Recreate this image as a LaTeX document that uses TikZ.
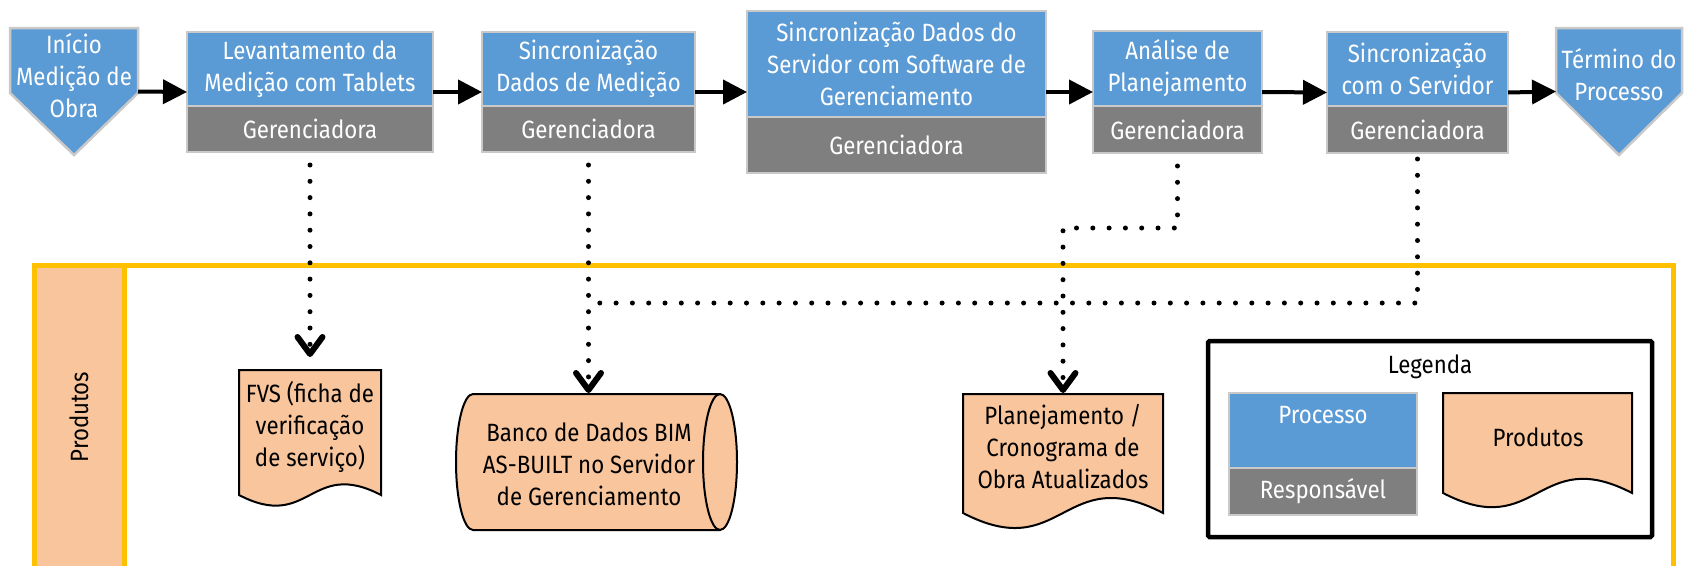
\documentclass[tikz,border=0pt]{standalone}
\usepackage{fontspec}
\setmainfont[FakeStretch=0.89]{Fira Sans}
\usetikzlibrary{arrows.meta,calc}
\definecolor{procblue}{HTML}{5B9BD5}
\definecolor{procgray}{HTML}{7F7F7F}
\definecolor{edgegray}{HTML}{C9C9C9}
\definecolor{peach}{HTML}{F8C59C}
\definecolor{frameyellow}{HTML}{FFC000}
\tikzset{
 txt/.style={font=\fontsize{25}{32}\selectfont, align=center, inner sep=0pt},
 proctop/.style={txt, fill=procblue, draw=edgegray, line width=2.5pt, text=white},
 procbot/.style={txt, fill=procgray, draw=edgegray, line width=2.5pt, text=white},
 area/.style={inner sep=0pt, outer sep=0pt},
 flow/.style={line width=4pt, -{Triangle[length=24pt,width=24pt]}},
 dotline/.style={line width=5pt, line cap=round, dash pattern=on 0pt off 16.3pt},
 dotarrow/.style={dotline, -{Straight Barb[length=17pt,width=25pt,line width=6pt,round]}},
 docshape/.style={fill=peach, draw=black, line width=2pt},
 pentshape/.style={fill=procblue, draw=edgegray, line width=2.5pt, line join=miter},
}
\newcommand\mkproc[7]{%
 \pgfmathsetmacro\mkpW{#3-#2}\pgfmathsetmacro\mkpCX{(#2+#3)/2}%
 \pgfmathsetmacro\mkpHT{#5-#4}\pgfmathsetmacro\mkpHB{#6-#5}\pgfmathsetmacro\mkpH{#6-#4}%
 \pgfmathsetmacro\mkpYT{(#4+#5)/2}\pgfmathsetmacro\mkpYB{(#5+#6)/2}\pgfmathsetmacro\mkpY{(#4+#6)/2}%
 \node[area, minimum width=\mkpW pt, minimum height=\mkpH pt] (#1) at (\mkpCX,\mkpY) {};
 \node[proctop, minimum width=\mkpW pt, minimum height=\mkpHT pt] (#1t) at (\mkpCX,\mkpYT) {#7};
 \node[procbot, minimum width=\mkpW pt, minimum height=\mkpHB pt] (#1b) at (\mkpCX,\mkpYB) {Gerenciadora};
}
\newcommand\mkdoc[5]{%
 \pgfmathsetmacro\mkdW{#3-#2}\pgfmathsetmacro\mkdCX{(#2+#3)/2}%
 \pgfmathsetmacro\mkdH{#5-#4}\pgfmathsetmacro\mkdY{(#4+#5)/2}%
 \pgfmathsetmacro\mkdA{0.26*(#3-#2)}%
 \node[area, minimum width=\mkdW pt, minimum height=\mkdH pt] (#1) at (\mkdCX,\mkdY) {};
 \filldraw[docshape] (#2,#4) -- (#3,#4) -- (#3,#5)
   .. controls ({\mkdCX},{#5-\mkdA}) and ({\mkdCX},{#5+\mkdA}) .. (#2,#5) -- cycle;
}
\begin{document}
\begin{tikzpicture}[x=1pt,y=-1pt]
\useasboundingbox (0,0) rectangle (1684,565);
% frame
\fill[peach] (36.5,268) rectangle (122,575);
\draw[frameyellow, line width=5pt] (34,580) -- (34,265.5) -- (1673.5,265.5) -- (1673.5,580);
\draw[frameyellow, line width=5pt] (124.5,268) -- (124.5,580);
\node[txt, rotate=90] (bandlabel) at (79,417) {Produtos};

% start / end
\node[area, minimum width=128pt, minimum height=127pt] (start) at (74,91.5) {};
\filldraw[pentshape] (start.north west) -- (start.north east) -- (138,93) -- (start.south) -- (10,93) -- cycle;
\node[txt, text=white] (starttxt) at (74,76) {Início\\Medição de\\Obra};
\node[area, minimum width=126pt, minimum height=127pt] (finish) at (1619,91.5) {};
\filldraw[pentshape] (finish.north west) -- (finish.north east) -- (1682,93) -- (finish.south) -- (1556,93) -- cycle;
\node[txt, text=white] (finishtxt) at (1619,75) {Término do\\Processo};

% processes
\mkproc{p1}{187}{433}{32}{106}{152}{Levantamento da\\Medição com Tablets}
\mkproc{p2}{482}{695}{32}{106}{152}{Sincronização\\Dados de Medição}
\mkproc{p3}{747}{1046}{11}{117}{173}{Sincronização Dados do\\Servidor com Software de\\Gerenciamento}
\mkproc{p4}{1093}{1262}{31}{106}{153}{Análise de\\Planejamento}
\mkproc{p5}{1327}{1508}{32}{106}{153}{Sincronização\\com o Servidor}

\draw[flow] (start.east) -- (p1.west);
\draw[flow] (p1.east) -- (p2.west);
\draw[flow] (p2.east) -- (p3.west);
\draw[flow] (p3.east) -- (p4.west);
\draw[flow] (p4.east) -- (p5.west);
\draw[flow] (p5.east) -- (finish.west);

% products
\mkdoc{fvs}{239}{381}{370}{495}
\node[txt] (fvstxt) at (310,427) {FVS (ficha de\\verificação\\de serviço)};
\mkdoc{plan}{963}{1163}{394}{513}
\node[txt] (plantxt) at (1063,447) {Planejamento /\\Cronograma de\\Obra Atualizados};

\node[area, minimum width=281pt, minimum height=136pt] (banco) at (596.5,462) {};
\filldraw[docshape] (473,530) .. controls (463.6,530) and (456,499.6) .. (456,462)
  .. controls (456,424.4) and (463.6,394) .. (473,394) -- (720,394)
  .. controls (729.4,394) and (737,424.4) .. (737,462)
  .. controls (737,499.6) and (729.4,530) .. (720,530) -- cycle;
\draw[docshape, fill=none] (720,394) .. controls (710.6,394) and (703,424.4) .. (703,462)
  .. controls (703,499.6) and (710.6,530) .. (720,530);
\node[txt] (bancotxt) at (589,464) {Banco de Dados BIM\\AS-BUILT no Servidor\\de Gerenciamento};

% dotted connectors
\coordinate (j1) at (588,303);
\coordinate (j2) at (1120,228);
\draw[dotline, shorten <=6pt] (p5.south) |- (j1);
\draw[dotarrow, shorten <=13pt, shorten >=13pt] (p1.south) -- (fvs.north);
\draw[dotarrow, shorten <=13pt, shorten >=1pt] (p2.south) -- (p2.south |- banco.north);
\draw[dotarrow, shorten <=13pt, shorten >=1pt] (p4.south) |- (j2) -| (plan.north);

% legend
\node[draw=black, line width=4.5pt, minimum width=444pt, minimum height=196pt, inner sep=0pt, rounded corners=1.5pt] (legend) at (1430,439) {};
\node[txt] (legtitle) at (1430,367) {Legenda};
\node[proctop, minimum width=188pt, minimum height=75pt] (legproc) at (1323,430.5) {};
\node[txt, text=white] (legproctxt) at (1323,415) {Processo};
\node[procbot, minimum width=188pt, minimum height=47pt] (legresp) at (1323,491.5) {Responsável};
\mkdoc{legdoc}{1443}{1632}{393}{493}
\node[txt] (legdoctxt) at (1538,437) {Produtos};
\end{tikzpicture}
\end{document}
